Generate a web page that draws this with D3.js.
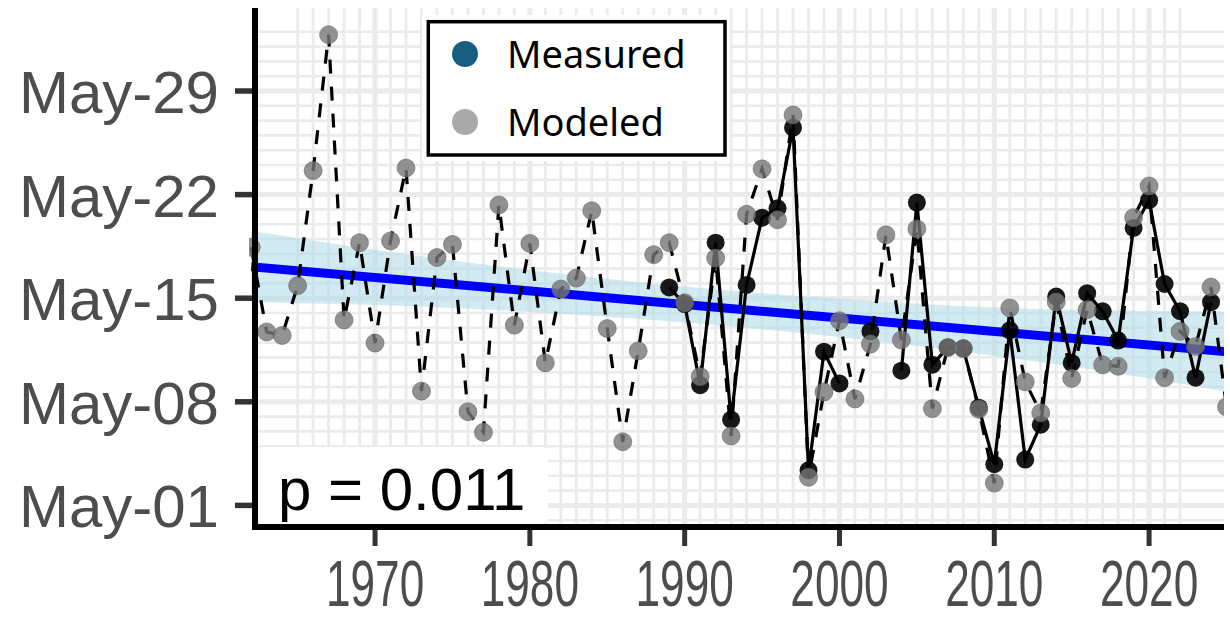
<!DOCTYPE html>
<html><head><meta charset="utf-8">
<script src="https://cdn.jsdelivr.net/npm/d3@7"></script>
<style>body{margin:0;background:#fff} svg{display:block}</style>
</head><body><svg id="c" width="1230" height="620"></svg>
<script>
// ---- data (day of May; values > 31 run into June) ----
const years = [1962,1963,1964,1965,1966,1967,1968,1969,1970,1971,1972,1973,1974,1975,1976,1977,1978,1979,1980,1981,1982,1983,1984,1985,1986,1987,1988,1989,1990,1991,1992,1993,1994,1995,1996,1997,1998,1999,2000,2001,2002,2003,2004,2005,2006,2007,2008,2009,2010,2011,2012,2013,2014,2015,2016,2017,2018,2019,2020,2021,2022,2023,2024,2025];
const modeled = [18.45,12.72,12.48,15.85,23.62,32.8,13.53,18.75,11.97,18.87,23.8,8.72,17.75,18.63,7.33,5.94,21.3,13.18,18.7,10.63,15.62,16.36,20.91,12.95,5.3,11.44,17.94,18.75,14.69,9.7,17.71,5.69,20.67,23.74,20.3,27.38,2.9,8.66,13.48,8.19,11.9,19.28,12.18,19.68,7.54,11.67,11.6,7.5,2.51,14.34,9.35,7.26,14.74,9.58,14.23,10.5,10.4,20.44,22.58,9.63,12.76,11.74,15.75,7.66];
const measured = [null,null,null,null,null,null,null,null,null,null,null,null,null,null,null,null,null,null,null,null,null,null,null,null,null,null,null,15.73,14.6,9.12,18.75,6.8,15.9,20.44,21.07,26.52,3.37,11.39,9.24,null,12.76,null,10.1,21.46,10.51,11.67,11.6,7.6,3.78,12.83,4.1,6.45,15.11,10.63,15.34,14.11,12.14,19.75,21.62,15.96,14.12,9.63,14.73,null];
const trendYears = [1962, 2025];
const trendValues = [17.13, 11.38];
const bandYears = [1962, 1972, 1982, 1993, 2004, 2014, 2025];
const bandLow  = [14.73, 14.47, 13.95, 13.10, 11.90, 10.53, 8.70];
const bandHigh = [19.53, 17.97, 16.65, 15.50, 14.70, 14.23, 14.10];
const yTickValues = [1, 8, 15, 22, 29];
const yTickLabels = ["May-01", "May-08", "May-15", "May-22", "May-29"];
const xTickValues = [1970, 1980, 1990, 2000, 2010, 2020];
const legendLabels = ["Measured", "Modeled"];
const legendColors = ["#175e80", "#a9a9a9"];
const pLabel = "p = 0.011";

// ---- layout ----
const svg = d3.select("#c");
const P = {left: 255, right: 1224, top: 8, bottom: 527};
const x = d3.scaleLinear().domain([1962, 2025]).range([251.2, 1226.5]);
const y = d3.scaleLinear().domain([1, 29]).range([505.4, 91]);

svg.append("defs").append("clipPath").attr("id", "clip")
  .append("rect").attr("x", P.left - 6).attr("y", P.top).attr("width", P.right - P.left + 6).attr("height", P.bottom - P.top);

// grid
const grid = svg.append("g");
d3.range(0, 34).forEach(d => {
  grid.append("line").attr("x1", P.left).attr("x2", P.right).attr("y1", y(d)).attr("y2", y(d))
    .attr("stroke", "#ebebeb").attr("stroke-width", yTickValues.includes(d) ? 5 : 2.6);
});
d3.range(1965, 2023).forEach(yr => {
  grid.append("line").attr("y1", P.top).attr("y2", P.bottom).attr("x1", x(yr)).attr("x2", x(yr))
    .attr("stroke", "#ebebeb").attr("stroke-width", xTickValues.includes(yr) ? 5 : 2.8);
});

const plot = svg.append("g").attr("clip-path", "url(#clip)");

// confidence band
const band = bandYears.map((yr, i) => ({yr, lo: bandLow[i], hi: bandHigh[i]}));
plot.append("path").datum(band)
  .attr("d", d3.area().x(d => x(d.yr)).y0(d => y(d.lo)).y1(d => y(d.hi)).curve(d3.curveMonotoneX))
  .attr("fill", "#add8e6").attr("fill-opacity", 0.55);
// trend line
plot.append("path").datum(trendYears.map((yr, i) => ({yr, v: trendValues[i]})))
  .attr("d", d3.line().x(d => x(d.yr)).y(d => y(d.v)))
  .attr("stroke", "#0000ff").attr("stroke-width", 9).attr("fill", "none");

const modPts = years.map((yr, i) => ({yr, v: modeled[i]}));
const meaPts = years.map((yr, i) => ({yr, v: measured[i]}));

plot.append("path").datum(modPts)
  .attr("d", d3.line().x(d => x(d.yr)).y(d => y(d.v)))
  .attr("stroke", "#000").attr("stroke-width", 3.2).attr("stroke-dasharray", "14,13").attr("fill", "none");
plot.append("path").datum(meaPts)
  .attr("d", d3.line().defined(d => d.v !== null).x(d => x(d.yr)).y(d => y(d.v)))
  .attr("stroke", "#000").attr("stroke-width", 3.2).attr("fill", "none");

plot.selectAll("circle.mea").data(meaPts.filter(d => d.v !== null)).join("circle")
  .attr("class", "mea").attr("cx", d => x(d.yr)).attr("cy", d => y(d.v)).attr("r", 9)
  .attr("fill", "#000").attr("fill-opacity", 0.9);
plot.selectAll("circle.mod").data(modPts).join("circle")
  .attr("class", "mod").attr("cx", d => x(d.yr)).attr("cy", d => y(d.v)).attr("r", 9)
  .attr("fill", "#777").attr("fill-opacity", 0.8)
  .attr("stroke", "#666").attr("stroke-opacity", 0.6).attr("stroke-width", 1);

// axes
const axes = svg.append("g");
axes.append("line").attr("x1", P.left).attr("x2", P.left).attr("y1", P.top).attr("y2", P.bottom + 3)
  .attr("stroke", "#000").attr("stroke-width", 6);
axes.append("line").attr("x1", P.left - 3).attr("x2", P.right).attr("y1", P.bottom).attr("y2", P.bottom)
  .attr("stroke", "#000").attr("stroke-width", 6);

yTickValues.forEach((v, i) => {
  axes.append("line").attr("x1", 235).attr("x2", P.left - 3).attr("y1", y(v)).attr("y2", y(v))
    .attr("stroke", "#333").attr("stroke-width", 5.5);
  axes.append("text").attr("x", 219).attr("y", y(v) + 22).attr("text-anchor", "end")
    .attr("font-family", "'Liberation Sans', Arial, sans-serif").attr("font-size", 60).attr("fill", "#4d4d4d")
    .text(yTickLabels[i]);
});
xTickValues.forEach(v => {
  axes.append("line").attr("x1", x(v)).attr("x2", x(v)).attr("y1", P.bottom + 3).attr("y2", 546)
    .attr("stroke", "#333").attr("stroke-width", 5);
  axes.append("text").attr("transform", `translate(${x(v)},606) scale(0.68,1)`).attr("text-anchor", "middle")
    .attr("font-family", "'Liberation Sans', Arial, sans-serif").attr("font-size", 65).attr("fill", "#4d4d4d")
    .text(v);
});

// legend
const lg = svg.append("g");
lg.append("rect").attr("x", 422).attr("y", 15).attr("width", 308).attr("height", 146).attr("fill", "#fff");
lg.append("rect").attr("x", 428.3).attr("y", 21.7).attr("width", 296.7).attr("height", 133.3)
  .attr("fill", "#fff").attr("stroke", "#000").attr("stroke-width", 3.5);
legendLabels.forEach((t, i) => {
  const cy = i === 0 ? 54 : 122;
  lg.append("circle").attr("cx", 465).attr("cy", cy).attr("r", 13).attr("fill", legendColors[i]);
  lg.append("text").attr("x", 507).attr("y", cy + 14).attr("font-family", "'Noto Sans', sans-serif")
    .attr("font-size", 38).attr("fill", "#000").text(t);
});

// p-value box
svg.append("rect").attr("x", 258).attr("y", 447).attr("width", 290).attr("height", 77).attr("rx", 6).attr("fill", "#fff");
svg.append("text").attr("x", 278).attr("y", 510).attr("font-family", "'Liberation Sans', Arial, sans-serif")
  .attr("font-size", 60).attr("fill", "#000").text(pLabel);
</script></body></html>
